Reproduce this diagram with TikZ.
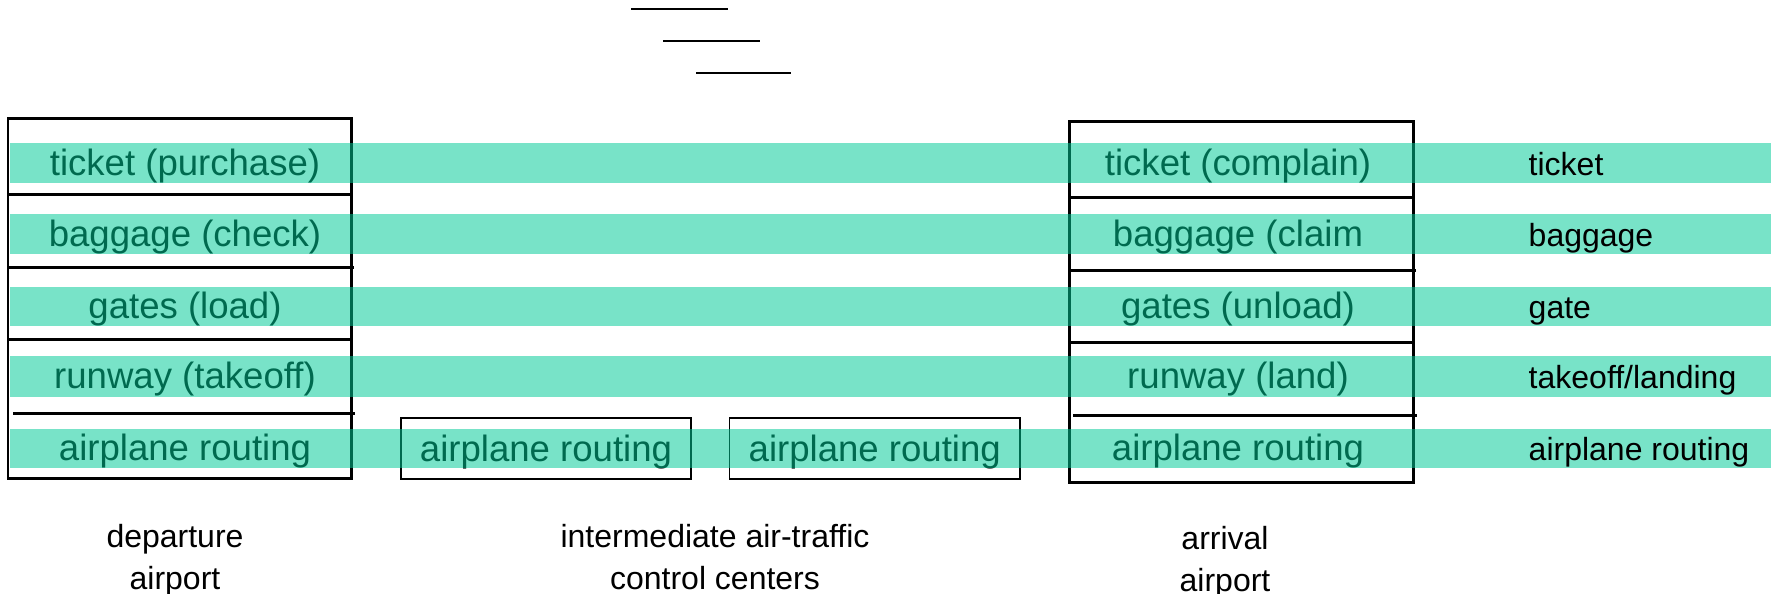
\documentclass[tikz,border=0pt]{standalone}
\usepackage{fontspec}
\setmainfont{Liberation Sans}
\usetikzlibrary{positioning}
\definecolor{bandgreen}{RGB}{0,202,151}
\tikzset{
  layerband/.style={fill=bandgreen, fill opacity=0.53, draw=none},
  layertext/.style={font=\fontsize{10.4}{12.5}\selectfont, anchor=base, inner sep=0pt},
  sidetext/.style={font=\fontsize{9.1}{11}\selectfont, anchor=base west, inner sep=0pt},
  sitetext/.style={font=\fontsize{9.1}{11.9}\selectfont, align=center, anchor=base, inner sep=0pt},
  stackbox/.style={line width=0.85pt},
  routerbox/.style={draw, line width=0.45pt, minimum width=2.9cm, minimum height=0.61cm, inner sep=0pt, text height=0.34cm, text depth=0.08cm, font=\fontsize{10.4}{12.5}\selectfont},
  stubline/.style={line width=0.57pt}
}

\begin{document}
\begin{tikzpicture}[x=0.01cm, y=-0.01cm]
  \useasboundingbox (0,0) rectangle (1777,593);
  % stray lines at the top
  \draw[stubline] (631,9)--(728,9);
  \draw[stubline] (663,41)--(760,41);
  \draw[stubline] (696,73)--(791,73);
  % departure airport stack
  \draw[stackbox] (8,118) rectangle (351,478);
  \draw[stackbox] (8,194)--(351,194);
  \draw[stackbox] (8,267)--(354,267);
  \draw[stackbox] (8,339)--(351,339);
  \draw[stackbox] (13,413)--(355,413);
  \node[layertext] (depticket) at (185,175) {ticket (purchase)};
  \node[layertext] (depbaggage) at (185,246) {baggage (check)};
  \node[layertext] (depgate) at (185,318.5) {gates (load)};
  \node[layertext] (deprunway) at (185,388.5) {runway (takeoff)};
  \node[layertext] (deproute) at (185,460.5) {airplane routing};
  % arrival airport stack
  \draw[stackbox] (1069,121) rectangle (1413,482);
  \draw[stackbox] (1069,197)--(1413,197);
  \draw[stackbox] (1069,270)--(1416,270);
  \draw[stackbox] (1069,342)--(1413,342);
  \draw[stackbox] (1073,415)--(1417,415);
  \node[layertext] (arrticket) at (1238,175) {ticket (complain)};
  \node[layertext] (arrbaggage) at (1238,246) {baggage (claim};
  \node[layertext] (arrgate) at (1238,318.5) {gates (unload)};
  \node[layertext] (arrrunway) at (1238,388.5) {runway (land)};
  \node[layertext] (arrroute) at (1238,460.5) {airplane routing};
  % intermediate centers
  \node[routerbox] (ctrone) at (546,448.5) {airplane routing};
  \node[routerbox, right=0.37cm of ctrone] (ctrtwo) {airplane routing};
  % layer bands
  \fill[layerband] (10,143) rectangle (1771,183);
  \fill[layerband] (10,214) rectangle (1771,254);
  \fill[layerband] (10,287) rectangle (1771,326);
  \fill[layerband] (10,356) rectangle (1771,397);
  \fill[layerband] (10,429) rectangle (1771,468);
  % layer names
  \node[sidetext] (nameticket) at (1528,175) {ticket};
  \node[sidetext] (namebaggage) at (1528,246) {baggage};
  \node[sidetext] (namegate) at (1528,318.5) {gate};
  \node[sidetext] (namerunway) at (1528,388.5) {takeoff/landing};
  \node[sidetext] (nameroute) at (1528,460.5) {airplane routing};
  % captions
  \node[sitetext] (depcap) at (175,589) {departure\\airport};
  \node[sitetext] (ctrcap) at (715,589) {intermediate air-traffic\\control centers};
  \node[sitetext] (arrcap) at (1225,591) {arrival\\airport};
\end{tikzpicture}
\end{document}
